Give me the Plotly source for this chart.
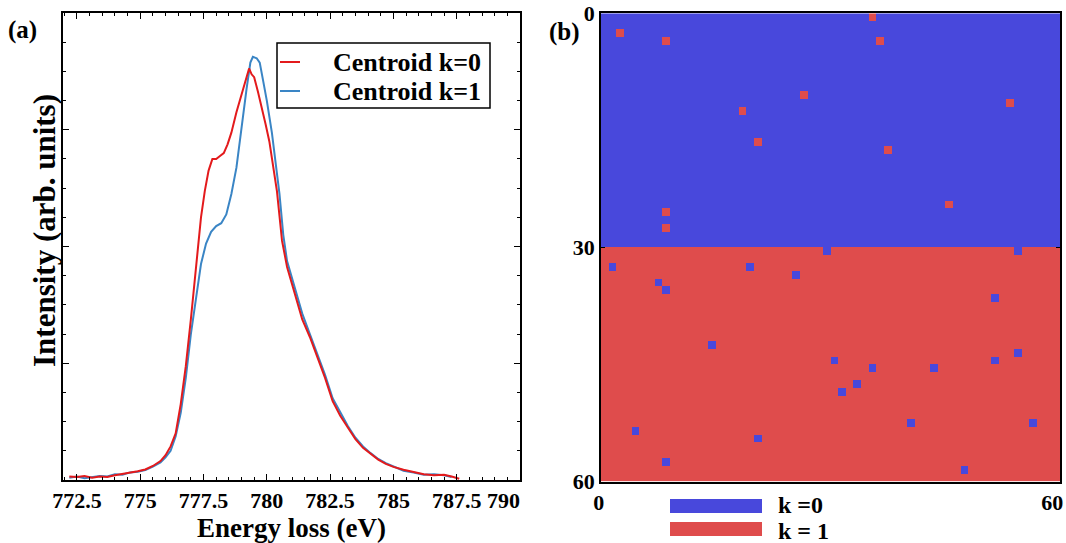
import plotly.graph_objects as go

W, H = 1066, 543

# ---------------- Panel (a) data: EELS-like spectra ----------------
energy_k0 = [772.2, 772.5, 772.8, 773.1, 773.4, 773.7, 774.0, 774.3, 774.6, 774.9,
             775.2, 775.5, 775.8, 776.0, 776.2, 776.4, 776.6, 776.8, 777.0, 777.2,
             777.4, 777.55, 777.7, 777.85, 778.0, 778.15, 778.3, 778.45, 778.6, 778.8,
             779.0, 779.15, 779.3, 779.4, 779.5, 779.65, 779.8, 779.95, 780.1, 780.25,
             780.4, 780.6, 780.8, 781.0, 781.2, 781.4, 781.7, 782.0, 782.3, 782.6,
             782.9, 783.2, 783.5, 783.8, 784.1, 784.4, 784.7, 785.0, 785.4, 785.8,
             786.2, 786.6, 787.0, 787.3, 787.6]
intensity_k0 = [0.012, 0.010, 0.014, 0.008, 0.012, 0.010, 0.016, 0.020, 0.024, 0.030,
                0.036, 0.048, 0.065, 0.085, 0.115, 0.160, 0.260, 0.390, 0.550, 0.720,
                0.900, 0.990, 1.060, 1.100, 1.100, 1.110, 1.120, 1.150, 1.190, 1.260,
                1.320, 1.360, 1.410, 1.390, 1.380, 1.330, 1.280, 1.220, 1.160, 1.080,
                0.990, 0.820, 0.730, 0.670, 0.610, 0.550, 0.490, 0.420, 0.350, 0.270,
                0.220, 0.180, 0.140, 0.110, 0.090, 0.070, 0.055, 0.045, 0.035, 0.028,
                0.020, 0.016, 0.018, 0.012, 0.004]

energy_k1 = [772.2, 772.5, 772.8, 773.1, 773.4, 773.7, 774.0, 774.3, 774.6, 774.9,
             775.2, 775.5, 775.8, 776.0, 776.2, 776.4, 776.6, 776.8, 777.0, 777.2,
             777.4, 777.6, 777.8, 778.0, 778.2, 778.4, 778.6, 778.8, 779.0, 779.2,
             779.35, 779.45, 779.6, 779.72, 779.85, 780.0, 780.2, 780.35, 780.5, 780.65,
             780.8, 781.0, 781.2, 781.4, 781.7, 782.0, 782.3, 782.6, 782.9, 783.2,
             783.5, 783.8, 784.1, 784.4, 784.7, 785.0, 785.4, 785.8, 786.2, 786.6,
             787.0, 787.3]
intensity_k1 = [0.008, 0.012, 0.006, 0.010, 0.014, 0.012, 0.020, 0.018, 0.026, 0.028,
                0.034, 0.046, 0.060, 0.078, 0.100, 0.150, 0.230, 0.350, 0.500, 0.620,
                0.740, 0.810, 0.850, 0.870, 0.880, 0.910, 0.980, 1.070, 1.210, 1.340,
                1.430, 1.450, 1.445, 1.430, 1.370, 1.300, 1.190, 1.080, 0.980, 0.840,
                0.750, 0.690, 0.630, 0.570, 0.500, 0.430, 0.360, 0.280, 0.230, 0.185,
                0.145, 0.115, 0.092, 0.072, 0.058, 0.046, 0.032, 0.026, 0.018, 0.020,
                0.016, 0.010]

series_names = ["Centroid k=0", "Centroid k=1"]

x_tick_vals = [772.5, 775, 777.5, 780, 782.5, 785, 787.5, 790]
x_tick_text = ["772.5", "775", "777.5", "780", "782.5", "785", "787.5",
               "790\u00a0\u00a0\u00a0\u00a0\u00a0\u00a0"]

# ---------------- Panel (b) data: cluster map ----------------
n_rows, n_cols = 60, 60
boundary_row = 30          # rows above -> k=0, rows from here -> k=1
# (row, col) cells of k=1 inside the k=0 block
red_in_blue = [(2, 2), (3, 8), (0, 35), (3, 36), (10, 26), (12, 18), (11, 53),
               (16, 20), (17, 37), (24, 45), (25, 8), (27, 8)]
# (row, col) cells of k=0 inside the k=1 block
blue_in_red = [(30, 29), (30, 54), (32, 1), (32, 19), (33, 25), (34, 7), (35, 8),
               (36, 51), (42, 14), (44, 30), (43, 54), (44, 51), (45, 35), (45, 43),
               (47, 33), (48, 31), (52, 40), (52, 56), (53, 4), (54, 20), (57, 8),
               (58, 47)]
y_tick_vals_b = [0, 30, 60]
x_tick_vals_b = [0, 60]
cluster_labels = ["k =0", "k = 1"]

z = [[0 if r < boundary_row else 1 for c in range(n_cols)] for r in range(n_rows)]
for r, c in red_in_blue:
    z[r][c] = 1
for r, c in blue_in_red:
    z[r][c] = 0
cell_x = [c + 0.5 for c in range(n_cols)]
cell_y = [r + 0.5 for r in range(n_rows)]

BLUE = "#4848dc"
RED = "#df4c4c"
LINE_RED = "#e31a1c"
LINE_BLUE = "#3a85c5"
FONT = "Liberation Serif"

fig = go.Figure()
fig.add_trace(go.Scatter(x=energy_k1, y=intensity_k1, mode="lines", name=series_names[1],
                         line=dict(color=LINE_BLUE, width=2), showlegend=False,
                         xaxis="x", yaxis="y"))
fig.add_trace(go.Scatter(x=energy_k0, y=intensity_k0, mode="lines", name=series_names[0],
                         line=dict(color=LINE_RED, width=2), showlegend=False,
                         xaxis="x", yaxis="y"))
fig.add_trace(go.Heatmap(x=cell_x, y=cell_y, z=z, zmin=0, zmax=1,
                         colorscale=[[0, BLUE], [0.5, BLUE], [0.5, RED], [1, RED]],
                         showscale=False, xaxis="x2", yaxis="y2"))

def px_x(p):
    return p / W

def px_y(p):
    return 1 - p / H

bold22 = dict(family=FONT, size=22, color="black", weight="bold")

def paper_text(text, x, y, size, xanchor="left", angle=0):
    return dict(text=text, x=px_x(x), y=px_y(y), xref="paper", yref="paper",
                xanchor=xanchor, yanchor="middle", showarrow=False, textangle=angle,
                font=dict(family=FONT, size=size, color="black", weight="bold"))

# legend of panel (a), drawn as a framed box
legend_shapes = [
    dict(type="rect", xref="paper", yref="paper",
         x0=px_x(277), x1=px_x(490), y0=px_y(108), y1=px_y(43),
         fillcolor="white", line=dict(color="black", width=1.5)),
    dict(type="line", xref="paper", yref="paper",
         x0=px_x(280), x1=px_x(300), y0=px_y(62), y1=px_y(62),
         line=dict(color=LINE_RED, width=2)),
    dict(type="line", xref="paper", yref="paper",
         x0=px_x(280), x1=px_x(300), y0=px_y(91), y1=px_y(91),
         line=dict(color=LINE_BLUE, width=2)),
]
# legend of panel (b)
cluster_shapes = [
    dict(type="rect", xref="paper", yref="paper",
         x0=px_x(670), x1=px_x(762), y0=px_y(513), y1=px_y(499),
         fillcolor=BLUE, line=dict(width=0)),
    dict(type="rect", xref="paper", yref="paper",
         x0=px_x(670), x1=px_x(762), y0=px_y(536), y1=px_y(522),
         fillcolor=RED, line=dict(width=0)),
]

fig.update_layout(
    width=W, height=H,
    margin=dict(l=0, r=0, t=0, b=0, autoexpand=False),
    paper_bgcolor="white", plot_bgcolor="white",
    showlegend=False,
    xaxis=dict(domain=[px_x(63), px_x(520)], range=[771.95, 790], automargin=False,
               tickvals=x_tick_vals, ticktext=x_tick_text, tickfont=bold22,
               ticklabeloverflow="allow",
               ticks="inside", ticklen=6, tickcolor="black",
               minor=dict(dtick=0.5, ticks="inside", ticklen=3, tickcolor="black"),
               showline=True, linecolor="black", linewidth=1.5, mirror="ticks",
               showgrid=False, zeroline=False,
               title=dict(text="Energy loss (eV)", standoff=6,
                          font=dict(family=FONT, size=27, color="black", weight="bold"))),
    yaxis=dict(domain=[px_y(480), px_y(13)], range=[0, 1.6], automargin=False,
               tickvals=[0, 0.4, 0.8, 1.2, 1.6], showticklabels=False,
               ticks="inside", ticklen=6, tickcolor="black",
               minor=dict(dtick=0.1, ticks="inside", ticklen=3, tickcolor="black"),
               showline=True, linecolor="black", linewidth=1.5, mirror="ticks",
               showgrid=False, zeroline=False),
    xaxis2=dict(domain=[px_x(601), px_x(1060)], range=[0, 60], anchor="y2",
                automargin=False, ticklabeloverflow="allow",
                ticklabelposition="outside left", ticklabelshift=4,
                tickvals=x_tick_vals_b, tickfont=bold22,
                ticks="", showline=True, linecolor="black", linewidth=1.5,
                mirror=True, showgrid=False, zeroline=False),
    yaxis2=dict(domain=[px_y(481.5), px_y(13.3)], range=[60, 0], anchor="x2",
                automargin=False, ticklabeloverflow="allow",
                tickvals=y_tick_vals_b, tickfont=bold22,
                ticks="inside", ticklen=4, tickcolor="black",
                showline=True, linecolor="black", linewidth=1.5,
                mirror="ticks", showgrid=False, zeroline=False),
    shapes=legend_shapes + cluster_shapes,
    annotations=[
        paper_text("Intensity (arb. units)", 44, 231, 31, xanchor="center", angle=-90),
        paper_text("(a)", 6, 30, 25),
        paper_text("(b)", 547, 32, 25),
        paper_text(series_names[0], 331, 62, 26),
        paper_text(series_names[1], 331, 91, 26),
        paper_text(cluster_labels[0], 776, 505, 24),
        paper_text(cluster_labels[1], 776, 531, 24),
    ],
)

fig.write_html("out.html", config={"displayModeBar": False},
               post_script="document.body.style.margin='0px';document.body.style.overflow='hidden';")
